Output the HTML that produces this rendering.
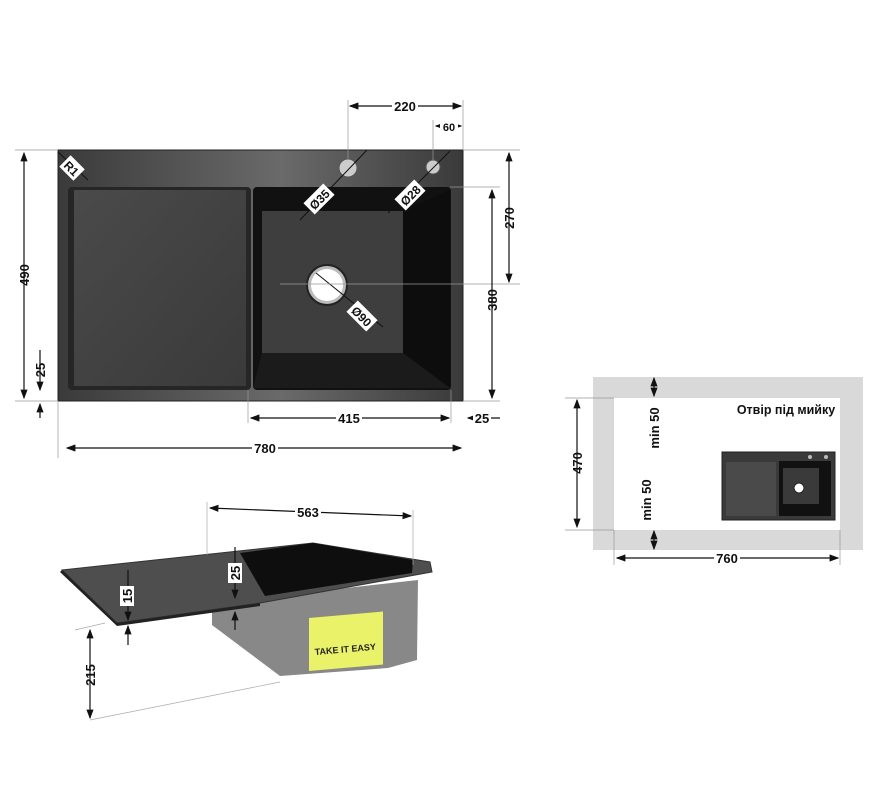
<!DOCTYPE html>
<html><head><meta charset="utf-8"><style>
body{margin:0;background:#fff;}
svg{display:block;font-family:"Liberation Sans",sans-serif;font-weight:bold;}
</style></head><body>
<svg width="875" height="800" viewBox="0 0 875 800" xmlns="http://www.w3.org/2000/svg">
<defs>
<marker id="a" markerWidth="8" markerHeight="6" refX="7" refY="3" orient="auto-start-reverse"><path d="M0,0 L8,3 L0,6z" fill="#111"/></marker>
<linearGradient id="top" x1="0" y1="0" x2="1" y2="0"><stop offset="0" stop-color="#3a3a3a"/><stop offset="0.55" stop-color="#6a6a6a"/><stop offset="1" stop-color="#3a3a3a"/></linearGradient>
<linearGradient id="board" x1="0" y1="0" x2="1" y2="1"><stop offset="0" stop-color="#4a4a4a"/><stop offset="1" stop-color="#3a3a3a"/></linearGradient>
</defs>
<!-- top sink -->
<rect x="58" y="150" width="405" height="251" fill="url(#top)" stroke="#222"/>
<rect x="68" y="187" width="183" height="203" rx="4" fill="#262626"/>
<rect x="74" y="190" width="172" height="196" fill="url(#board)"/>
<rect x="253" y="187" width="198" height="203" rx="4" fill="#111"/>
<rect x="262" y="211" width="141" height="142" fill="#3e3e3e"/>
<polygon points="403,211 450,190 450,388 403,353" fill="#0d0d0d"/>
<polygon points="262,353 403,353 450,388 253,388" fill="#1b1b1b"/>
<circle cx="327" cy="285" r="20" fill="#bbb" stroke="#222" stroke-width="2"/>
<circle cx="327" cy="285" r="16" fill="#fff"/>
<circle cx="348" cy="168" r="9" fill="#ccc" stroke="#555"/>
<circle cx="433" cy="167" r="7" fill="#ccc" stroke="#555"/>
<g stroke="#111" stroke-width="1" fill="none">
<line x1="316" y1="273" x2="383" y2="327"/>
<line x1="300" y1="220" x2="367" y2="150"/>
<line x1="388" y1="213" x2="450" y2="151"/>
<line x1="58" y1="152" x2="88" y2="180"/>
</g>
<g fill="#111" font-size="12" text-anchor="middle">
<g transform="translate(72,168) rotate(45)"><rect x="-10" y="-8" width="20" height="16" fill="#fff"/><text y="5">R1</text></g>
<g transform="translate(319,199) rotate(-45)"><rect x="-14" y="-8" width="28" height="16" fill="#fff"/><text y="5">Ø35</text></g>
<g transform="translate(410,195) rotate(-45)"><rect x="-14" y="-8" width="28" height="16" fill="#fff"/><text y="5">Ø28</text></g>
<g transform="translate(362,316) rotate(45)"><rect x="-14" y="-8" width="28" height="16" fill="#fff"/><text y="5">Ø90</text></g>
</g>
<!-- dims top -->
<g stroke="#999" stroke-width="0.7">
<line x1="348" y1="100" x2="348" y2="160"/><line x1="463" y1="100" x2="463" y2="150"/><line x1="433" y1="120" x2="433" y2="160"/>
<line x1="15" y1="150" x2="58" y2="150"/><line x1="15" y1="401" x2="58" y2="401"/>
<line x1="463" y1="150" x2="520" y2="150"/><line x1="450" y1="187" x2="500" y2="187"/><line x1="280" y1="284" x2="520" y2="284"/>
<line x1="463" y1="401" x2="500" y2="401"/><line x1="248" y1="390" x2="248" y2="423"/><line x1="451" y1="390" x2="451" y2="423"/>
<line x1="58" y1="401" x2="58" y2="458"/>
</g>
<g stroke="#111" stroke-width="1.2">
<line x1="350" y1="106" x2="461" y2="106" marker-start="url(#a)" marker-end="url(#a)"/>
<line x1="436" y1="126" x2="461" y2="126" marker-start="url(#a)" marker-end="url(#a)"/>
<line x1="24" y1="153" x2="24" y2="398" marker-start="url(#a)" marker-end="url(#a)"/>
<line x1="509" y1="153" x2="509" y2="282" marker-start="url(#a)" marker-end="url(#a)"/>
<line x1="492" y1="190" x2="492" y2="398" marker-start="url(#a)" marker-end="url(#a)"/>
<line x1="251" y1="418" x2="449" y2="418" marker-start="url(#a)" marker-end="url(#a)"/>
<line x1="67" y1="448" x2="461" y2="448" marker-start="url(#a)" marker-end="url(#a)"/>
<line x1="40" y1="350" x2="40" y2="390" marker-end="url(#a)"/>
<line x1="40" y1="418" x2="40" y2="404" marker-end="url(#a)"/>
<line x1="500" y1="418" x2="468" y2="418" marker-end="url(#a)"/>
</g>
<g fill="#111" font-size="13" text-anchor="middle">
<rect x="392" y="99" width="26" height="14" fill="#fff"/><text x="405" y="111">220</text>
<rect x="440" y="120" width="18" height="12" fill="#fff"/><text x="449" y="131" font-size="11">60</text>
<text transform="translate(29,275) rotate(-90)">490</text>
<text transform="translate(514,218) rotate(-90)">270</text>
<text transform="translate(497,300) rotate(-90)">380</text>
<rect x="336" y="411" width="26" height="14" fill="#fff"/><text x="349" y="423">415</text>
<rect x="252" y="441" width="26" height="14" fill="#fff"/><text x="265" y="453">780</text>
<text transform="translate(45,370) rotate(-90)">25</text>
<rect x="473" y="411" width="18" height="14" fill="#fff"/><text x="482" y="423">25</text>
</g>
<!-- right panel -->
<rect x="593" y="377" width="270" height="173" fill="#d9d9d9"/>
<rect x="614" y="398" width="226" height="132" fill="#fff"/>
<rect x="722" y="452" width="113" height="68" fill="#3a3a3a" stroke="#222"/>
<rect x="726" y="462" width="50" height="54" fill="#4a4a4a"/>
<rect x="779" y="461" width="52" height="55" fill="#111"/>
<rect x="783" y="468" width="36" height="36" fill="#3a3a3a"/>
<circle cx="799" cy="488" r="5" fill="#fff" stroke="#222"/>
<circle cx="810" cy="457" r="2" fill="#bbb"/><circle cx="826" cy="457" r="2" fill="#bbb"/>
<g stroke="#111" stroke-width="1.2">
<line x1="577" y1="400" x2="577" y2="527" marker-start="url(#a)" marker-end="url(#a)"/>
<line x1="617" y1="558" x2="838" y2="558" marker-start="url(#a)" marker-end="url(#a)"/>
<line x1="654" y1="378" x2="654" y2="396" marker-start="url(#a)" marker-end="url(#a)"/>
<line x1="654" y1="531" x2="654" y2="549" marker-start="url(#a)" marker-end="url(#a)"/>
</g>
<g stroke="#999" stroke-width="0.7"><line x1="565" y1="398" x2="614" y2="398"/><line x1="565" y1="530" x2="614" y2="530"/><line x1="614" y1="530" x2="614" y2="565"/><line x1="840" y1="530" x2="840" y2="565"/></g>
<g fill="#111" font-size="13" text-anchor="middle">
<text x="786" y="414" font-size="12.5">Отвір під мийку</text>
<text transform="translate(582,463) rotate(-90)">470</text>
<rect x="714" y="551" width="26" height="14" fill="#fff"/><text x="727" y="563">760</text>
<text transform="translate(659,428) rotate(-90)">min 50</text>
<text transform="translate(651,500) rotate(-90)">min 50</text>
</g>
<!-- bottom sink -->
<polygon points="212,603 418,580 417,660 388,668 280,676 212,625" fill="#888"/>
<polygon points="62,570 313,543 430,562 432,572 260,603 117,623" fill="#4e4e4e" stroke="#333"/>
<polygon points="240,553 313,543 413,560 412,573 265,596" fill="#0e0e0e"/>
<polygon points="62,570 117,623 260,603 260,606 117,626 60,572" fill="#222"/>
<rect x="309" y="617" width="74" height="53" fill="#eaf26a" transform="skewY(-5) translate(0,28)"/>
<text x="315" y="655" font-size="9" fill="#222" transform="rotate(-5 315 655)">TAKE IT EASY</text>
<g stroke="#111" stroke-width="1.2">
<line x1="210" y1="508" x2="411" y2="516" marker-start="url(#a)" marker-end="url(#a)"/>
<line x1="128" y1="570" x2="128" y2="620" marker-end="url(#a)"/>
<line x1="128" y1="645" x2="128" y2="626" marker-end="url(#a)"/>
<line x1="235" y1="547" x2="235" y2="598" marker-end="url(#a)"/>
<line x1="235" y1="630" x2="235" y2="612" marker-end="url(#a)"/>
<line x1="90" y1="630" x2="90" y2="718" marker-start="url(#a)" marker-end="url(#a)"/>
</g>
<g stroke="#aaa" stroke-width="0.7"><line x1="207" y1="502" x2="207" y2="555"/><line x1="413" y1="510" x2="413" y2="565"/><line x1="75" y1="630" x2="105" y2="623"/><line x1="90" y1="720" x2="280" y2="682"/></g>
<g fill="#111" font-size="13" text-anchor="middle">
<rect x="295" y="505" width="26" height="15" fill="#fff"/><text x="308" y="517">563</text>
<rect x="120" y="586" width="14" height="20" fill="#fff"/><text transform="translate(132,596) rotate(-90)">15</text>
<rect x="228" y="563" width="14" height="20" fill="#fff"/><text transform="translate(240,573) rotate(-90)">25</text>
<text transform="translate(95,675) rotate(-90)">215</text>
</g>
</svg>
</body></html>
